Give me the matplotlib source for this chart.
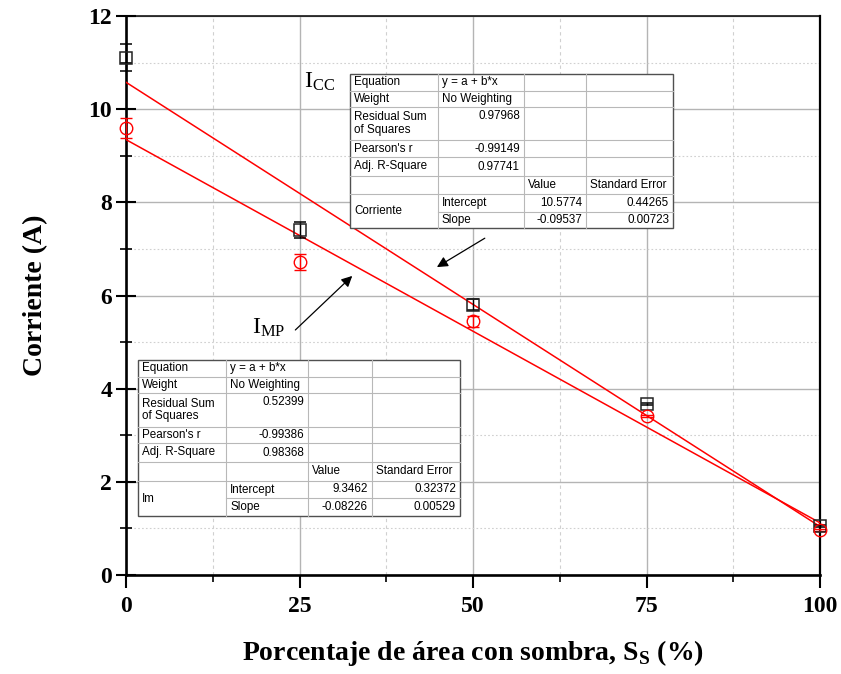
import matplotlib
matplotlib.use("Agg")
import matplotlib.pyplot as plt
from matplotlib.patches import Rectangle
from matplotlib.lines import Line2D
import numpy as np

plt.rcParams['mathtext.fontset'] = 'custom'
plt.rcParams['mathtext.rm'] = 'Liberation Serif'
plt.rcParams['mathtext.bf'] = 'Liberation Serif:bold'

# ---- data ----
shade = [0, 25, 50, 75, 100]
icc = [11.1, 7.4, 5.8, 3.68, 1.05]
icc_err = [0.29, 0.17, 0.12, 0.02, 0.02]
imp = [9.6, 6.72, 5.45, 3.42, 0.97]
imp_err = [0.22, 0.17, 0.12, 0.02, 0.02]
icc_fit = [10.5774, -0.09537]
imp_fit = [9.3462, -0.08226]

xticks = [0, 25, 50, 75, 100]
yticks = [0, 2, 4, 6, 8, 10, 12]

table_icc = [
    ["Equation", "y = a + b*x", "", ""],
    ["Weight", "No Weighting", "", ""],
    ["Residual Sum\nof Squares", "0.97968", "", ""],
    ["Pearson's r", "-0.99149", "", ""],
    ["Adj. R-Square", "0.97741", "", ""],
    ["", "", "Value", "Standard Error"],
    ["Corriente", "Intercept", "10.5774", "0.44265"],
    ["", "Slope", "-0.09537", "0.00723"],
]
table_imp = [
    ["Equation", "y = a + b*x", "", ""],
    ["Weight", "No Weighting", "", ""],
    ["Residual Sum\nof Squares", "0.52399", "", ""],
    ["Pearson's r", "-0.99386", "", ""],
    ["Adj. R-Square", "0.98368", "", ""],
    ["", "", "Value", "Standard Error"],
    ["Im", "Intercept", "9.3462", "0.32372"],
    ["", "Slope", "-0.08226", "0.00529"],
]

W, H = 841, 674
fig = plt.figure(figsize=(W / 100, H / 100), dpi=100)
ax = fig.add_axes([126 / W, 1 - 575 / H, (820 - 126) / W, (575 - 16) / H])

ax.set_xlim(0, 100)
ax.set_ylim(0, 12)
ax.set_xticks(xticks)
ax.set_yticks(yticks)
ax.set_xticks([12.5, 37.5, 62.5, 87.5], minor=True)
ax.set_yticks([1, 3, 5, 7, 9, 11], minor=True)

ax.grid(True, which='major', color='#b4b4b4', lw=1.0, ls='-')
ax.xaxis.grid(True, which='minor', color='#d0d0d0', lw=0.8, ls=(0, (3, 3)))
ax.yaxis.grid(True, which='minor', color='#d0d0d0', lw=0.8, ls=(0, (1.5, 2)))
ax.set_axisbelow(True)

for s, w in [('left', 1.9), ('bottom', 1.9), ('right', 1.6), ('top', 1.1)]:
    ax.spines[s].set_linewidth(w)
    ax.spines[s].set_color('black')

ax.tick_params(axis='x', which='major', direction='out', length=9, width=1.5, pad=6)
ax.tick_params(axis='x', which='minor', direction='out', length=5, width=1.2)
ax.tick_params(axis='y', which='major', direction='inout', length=14, width=1.5, pad=3)
ax.tick_params(axis='y', which='minor', direction='inout', length=9, width=1.2)
for lab in ax.get_xticklabels() + ax.get_yticklabels():
    lab.set_fontfamily('Liberation Serif')
    lab.set_fontweight('bold')
    lab.set_fontsize(17)

# fit lines
xx = np.array([0, 100])
ax.plot(xx, icc_fit[0] + icc_fit[1] * xx, color='red', lw=1.1, zorder=3)
ax.plot(xx, imp_fit[0] + imp_fit[1] * xx, color='red', lw=1.1, zorder=3)

# data
ax.errorbar(shade, icc, yerr=icc_err, fmt='s', mfc='none', mec='#222222', ms=8,
            mew=1.1, ecolor='black', elinewidth=1.0, capsize=4.5, capthick=1.0,
            zorder=4, clip_on=False)
ax.errorbar(shade, imp, yerr=imp_err, fmt='o', mfc='none', mec='red', ms=9,
            mew=1.0, ecolor='red', elinewidth=1.0, capsize=4.5, capthick=1.0,
            zorder=4, clip_on=False)

# arrows and labels
ax.annotate('', xy=(44.8, 6.61), xytext=(51.7, 7.23),
            arrowprops=dict(arrowstyle='-|>', color='black', lw=0.9,
                            mutation_scale=16, shrinkA=0, shrinkB=0))
ax.annotate('', xy=(32.6, 6.42), xytext=(24.4, 5.26),
            arrowprops=dict(arrowstyle='-|>', color='black', lw=0.9,
                            mutation_scale=16, shrinkA=0, shrinkB=0))
ax.text(25.6, 10.6, r'$\mathrm{I_{CC}}$', fontsize=17, color='black',
        ha='left', va='center')
ax.text(18.2, 5.32, r'$\mathrm{I_{MP}}$', fontsize=17, color='black',
        ha='left', va='center')

ax.set_xlabel(r'Porcentaje de área con sombra, S$_\mathbf{S}$ (%)',
              fontfamily='Liberation Serif', fontweight='bold', fontsize=20)
ax.set_ylabel('Corriente (A)', fontfamily='Liberation Serif',
              fontweight='bold', fontsize=20)
ax.xaxis.set_label_coords(0.5, -0.112)
ax.yaxis.set_label_coords(-0.112, 0.5)


def fx(px):
    return px / W


def fy(py):
    return 1 - py / H


def draw_table(cols, rows, data):
    x0, x1 = cols[0], cols[-1]
    y0, y1 = rows[0], rows[-1]
    fig.add_artist(Rectangle((fx(x0), fy(y1)), fx(x1) - fx(x0), fy(y0) - fy(y1),
                             transform=fig.transFigure, facecolor='white',
                             edgecolor='#505050', lw=1.0, zorder=5))
    inner = '#b8b8b8'
    for c in cols[1:-1]:
        fig.add_artist(Line2D([fx(c), fx(c)], [fy(y0), fy(y1)], color=inner,
                              lw=0.8, transform=fig.transFigure, zorder=6))
    for i, r in enumerate(rows[1:-1]):
        start = x0
        if i == 6:
            start = cols[1]
        fig.add_artist(Line2D([fx(start), fx(x1)], [fy(r), fy(r)], color=inner,
                              lw=0.8, transform=fig.transFigure, zorder=6))
    for i, row in enumerate(data):
        ytop, ybot = rows[i], rows[i + 1]
        for j, txt in enumerate(row):
            if not txt:
                continue
            if i == 6 and j == 0:
                yc = (rows[6] + rows[8]) / 2
            elif i == 2:
                yc = ytop + 9 if j == 1 else (ytop + ybot) / 2
            else:
                yc = (ytop + ybot) / 2
            numeric = txt[0] in '-0123456789'
            if j >= 1 and (numeric or (i == 5)):
                xt = cols[j + 1] - 4
                ha = 'right'
                if i == 5:
                    xt = cols[j] + 4
                    ha = 'left'
            else:
                xt = cols[j] + 4
                ha = 'left'
            fig.text(fx(xt), fy(yc), txt, ha=ha, va='center', fontsize=8.4,
                     fontfamily='Liberation Sans', linespacing=1.1, zorder=7)


draw_table([350, 438, 524, 586, 673], [74, 91, 107, 140, 157, 176, 194, 212, 228],
           table_icc)
draw_table([138, 226, 308, 372, 460], [360, 377, 393, 427, 443, 462, 481, 498, 516],
           table_imp)

fig.savefig('out.png', dpi=100)
